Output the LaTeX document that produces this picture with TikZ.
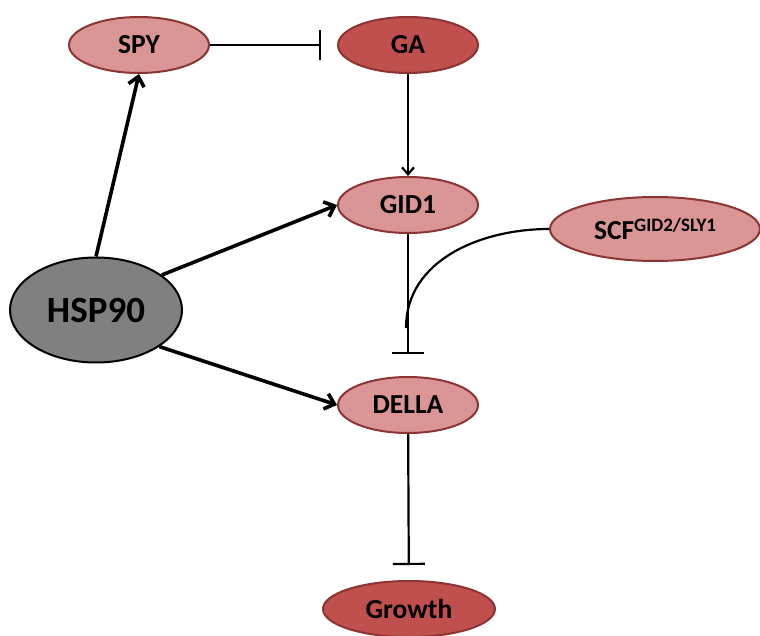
\documentclass[tikz,border=0pt]{standalone}
\usepackage{fontspec}
\setmainfont{Carlito}
\usetikzlibrary{shapes.geometric,arrows.meta}
\definecolor{lightred}{RGB}{217,150,148}
\definecolor{darkred}{RGB}{192,80,77}
\definecolor{redline}{RGB}{140,52,50}
\definecolor{hspgray}{RGB}{128,128,128}
\begin{document}
\begin{tikzpicture}[x=1pt,y=-1pt,line join=round,
	gene/.style={ellipse,draw=redline,line width=2pt,inner sep=0pt,minimum width=140,minimum height=56,font=\fontsize{27.5}{30}\selectfont\bfseries},
	light/.style={gene,fill=lightred},
	dark/.style={gene,fill=darkred},
	act/.style={line width=2.2pt,-{Straight Barb[length=7pt,width=12pt,line width=2.2pt]}},
	hsp/.style={line width=3.6pt,-{Straight Barb[length=9pt,width=16pt,line width=3.6pt]}},
	inh/.style={line width=2.2pt,-{Bar[width=32pt,line width=2.2pt]}}]
	\useasboundingbox (0,0) rectangle (760,636);
	% nodes
	\node[light] (spy) at (139,45) {SPY};
	\node[dark] (ga) at (408,45) {GA};
	\node[light] (gid1) at (408,205) {GID1};
	\node[light,minimum width=210,minimum height=64] (scf) at (655,229) {SCF\raisebox{8pt}{\fontsize{19}{20}\selectfont GID2/SLY1}};
	\node[ellipse,draw=black,line width=2pt,fill=hspgray,inner sep=0pt,minimum width=172,minimum height=105,font=\fontsize{37}{40}\selectfont\bfseries] (hsp90) at (96,310) {HSP90};
	\node[light] (della) at (408,405) {DELLA};
	\node[dark,minimum width=172] (growth) at (409,609) {Growth};
	\coordinate (join) at (406,328);
	% edges
	\draw[inh,shorten >=16pt,-{Bar[width=30pt,line width=2.2pt]}] (spy) -- (ga);
	\draw[act] (ga) -- (gid1);
	\draw[hsp] (hsp90.north) -- (spy.south);
	\draw[hsp] (hsp90.28) -- (gid1.west);
	\draw[hsp] (hsp90.-30) -- (della.west);
	\draw[inh,shorten >=22pt] (gid1) -- (della);
	\draw[line width=2.2pt] (scf.west) to[out=180,in=90] (join);
	\draw[inh,shorten >=15pt] (della) -- (growth);
\end{tikzpicture}
\end{document}
